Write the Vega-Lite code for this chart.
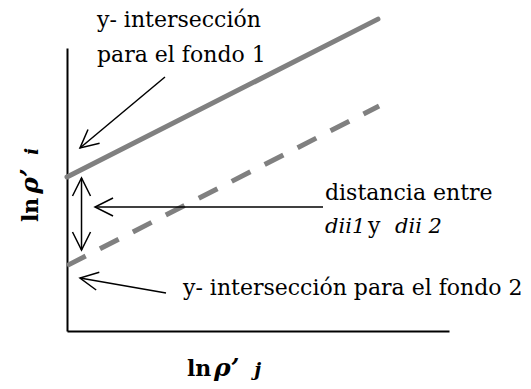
{
  "$schema": "https://vega.github.io/schema/vega-lite/v6.json",
  "width": 382,
  "height": 283,
  "autosize": {"type": "none"},
  "padding": {"left": 67, "top": 48, "right": 82, "bottom": 58},
  "background": "white",
  "config": {
    "view": {"stroke": null},
    "text": {"font": "DejaVu Serif"},
    "axis": {"domain": true, "domainColor": "black", "domainWidth": 2, "ticks": false, "labels": false, "grid": false}
  },
  "datasets": {
    "lines": [
      {"serie": "fondo 1", "x": 0, "y": 5.44},
      {"serie": "fondo 1", "x": 8.14, "y": 11.02},
      {"serie": "fondo 2", "x": 0, "y": 2.31},
      {"serie": "fondo 2", "x": 8.17, "y": 7.95}
    ],
    "arrows": [
      {"id": "a1", "x1": 2.565, "y1": 8.975, "x2": 0.34, "y2": 6.466},
      {"id": "a2", "x1": 0.38, "y1": 5.406, "x2": 0.38, "y2": 2.862},
      {"id": "a3", "x1": 6.702, "y1": 4.382, "x2": 0.733, "y2": 4.382},
      {"id": "a4", "x1": 2.592, "y1": 1.343, "x2": 0.34, "y2": 1.873}
    ],
    "heads": [
      {"x": 0.34, "y": 6.466, "dir": 230},
      {"x": 0.38, "y": 5.406, "dir": 0},
      {"x": 0.38, "y": 2.862, "dir": 180},
      {"x": 0.733, "y": 4.382, "dir": 270},
      {"x": 0.34, "y": 1.873, "dir": 280}
    ],
    "labels": [
      {"text": "y- intersección", "x": 0.785, "y": 10.742},
      {"text": "para el fondo 1", "x": 0.785, "y": 9.505},
      {"text": "distancia entre", "x": 6.754, "y": 4.629},
      {"text": "y", "x": 7.88, "y": 3.463},
      {"text": "y- intersección para el fondo 2", "x": 3.037, "y": 1.272}
    ],
    "labelsItalic": [
      {"text": "dii1", "x": 6.754, "y": 3.463},
      {"text": "dii 2", "x": 8.586, "y": 3.463}
    ],
    "xTitleBold": [{"text": "ln", "x": 3.141, "y": -1.59}],
    "xTitleBoldItalic": [{"text": "ρ’", "x": 3.85, "y": -1.59}],
    "xTitleSub": [{"text": "j", "x": 4.9, "y": -1.59}],
    "yTitleBold": [{"text": "ln", "x": -0.759, "y": 3.852}],
    "yTitleBoldItalic": [{"text": "ρ’", "x": -0.759, "y": 4.85}],
    "yTitleSub": [{"text": "i", "x": -0.759, "y": 6.219}]
  },
  "encoding": {
    "x": {"field": "x", "type": "quantitative", "title": null, "scale": {"domain": [0, 10], "nice": false, "zero": false}},
    "y": {"field": "y", "type": "quantitative", "title": null, "scale": {"domain": [0, 10], "nice": false, "zero": false}}
  },
  "layer": [
    {
      "data": {"name": "lines"},
      "transform": [{"filter": "datum.serie === 'fondo 1'"}],
      "mark": {"type": "line", "color": "#808080", "strokeWidth": 5, "strokeCap": "round"}
    },
    {
      "data": {"name": "lines"},
      "transform": [{"filter": "datum.serie === 'fondo 2'"}],
      "mark": {"type": "line", "color": "#808080", "strokeWidth": 5, "strokeCap": "butt", "strokeDash": [21, 16]}
    },
    {
      "data": {"name": "arrows"},
      "mark": {"type": "rule", "color": "black", "strokeWidth": 1.5},
      "encoding": {
        "x": {"field": "x1", "type": "quantitative"},
        "y": {"field": "y1", "type": "quantitative"},
        "x2": {"field": "x2"},
        "y2": {"field": "y2"}
      }
    },
    {
      "data": {"name": "heads"},
      "mark": {"type": "point", "shape": "M-0.5,1L0,0L0.5,1", "filled": false, "stroke": "black", "strokeWidth": 1.5, "size": 1300, "opacity": 1},
      "encoding": {
        "angle": {"field": "dir", "type": "quantitative", "scale": null}
      }
    },
    {
      "data": {"name": "labels"},
      "mark": {"type": "text", "font": "DejaVu Serif", "fontSize": 22, "align": "left", "baseline": "alphabetic", "color": "black"},
      "encoding": {"text": {"field": "text"}}
    },
    {
      "data": {"name": "labelsItalic"},
      "mark": {"type": "text", "font": "DejaVu Serif", "fontSize": 21, "fontStyle": "italic", "align": "left", "baseline": "alphabetic", "color": "black"},
      "encoding": {"text": {"field": "text"}}
    },
    {
      "data": {"name": "xTitleBold"},
      "mark": {"type": "text", "font": "DejaVu Serif", "fontSize": 22, "fontWeight": "bold", "align": "left", "baseline": "alphabetic", "color": "black"},
      "encoding": {"text": {"field": "text"}}
    },
    {
      "data": {"name": "xTitleBoldItalic"},
      "mark": {"type": "text", "font": "DejaVu Serif", "fontSize": 25, "fontWeight": "bold", "fontStyle": "italic", "align": "left", "baseline": "alphabetic", "color": "black"},
      "encoding": {"text": {"field": "text"}}
    },
    {
      "data": {"name": "xTitleSub"},
      "mark": {"type": "text", "font": "DejaVu Serif", "fontSize": 19, "fontWeight": "bold", "fontStyle": "italic", "align": "left", "baseline": "alphabetic", "color": "black"},
      "encoding": {"text": {"field": "text"}}
    },
    {
      "data": {"name": "yTitleBold"},
      "mark": {"type": "text", "font": "DejaVu Serif", "fontSize": 22, "fontWeight": "bold", "align": "left", "baseline": "alphabetic", "angle": 270, "color": "black"},
      "encoding": {"text": {"field": "text"}}
    },
    {
      "data": {"name": "yTitleBoldItalic"},
      "mark": {"type": "text", "font": "DejaVu Serif", "fontSize": 25, "fontWeight": "bold", "fontStyle": "italic", "align": "left", "baseline": "alphabetic", "angle": 270, "color": "black"},
      "encoding": {"text": {"field": "text"}}
    },
    {
      "data": {"name": "yTitleSub"},
      "mark": {"type": "text", "font": "DejaVu Serif", "fontSize": 19, "fontWeight": "bold", "fontStyle": "italic", "align": "left", "baseline": "alphabetic", "angle": 270, "color": "black"},
      "encoding": {"text": {"field": "text"}}
    }
  ]
}
